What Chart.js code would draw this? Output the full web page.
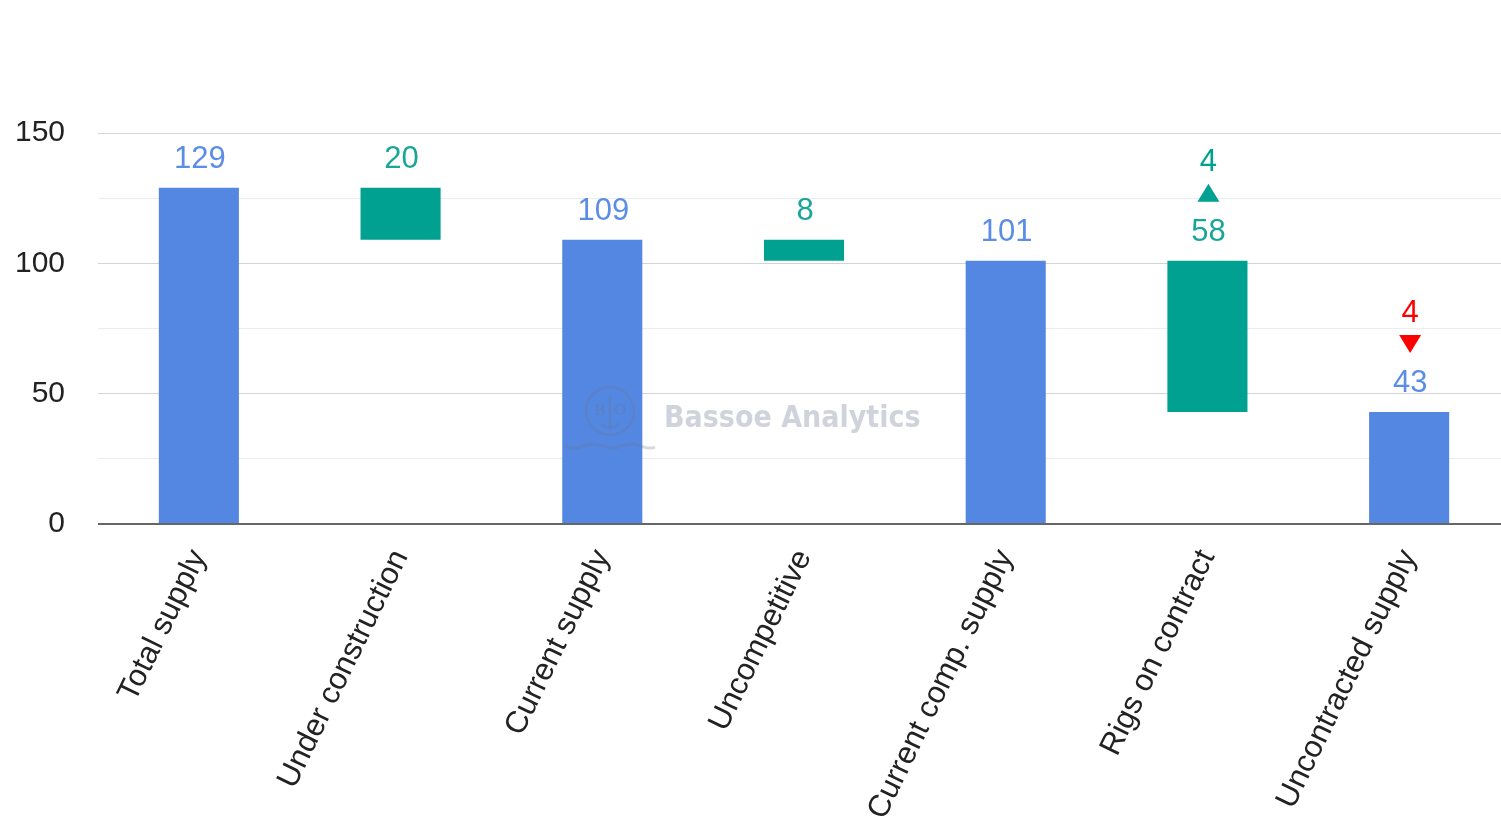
<!DOCTYPE html>
<html lang="en">
<head>
    <meta charset="UTF-8" />
    <title>Rig supply waterfall</title>
    <script src="https://cdn.jsdelivr.net/npm/chart.js"></script>
    <style>
        html, body {
          margin: 0;
          padding: 0;
          background: #fff;
          overflow: hidden;
        }

        .chart-container {
          position: relative;
          width: 1510px;
          height: 826px;
        }
    </style>
</head>
<body>

<div class="chart-container">
    <canvas id="waterfall"></canvas>
</div>

<script>
    // data
    const categories = ['Total supply', 'Under construction', 'Current supply', 'Uncompetitive',
                        'Current comp. supply', 'Rigs on contract', 'Uncontracted supply'];
    const barFrom = [0, 109, 0, 101, 0, 43, 0];
    const barTo = [129, 129, 109, 109, 101, 101, 43];
    const barKind = ['total', 'step', 'total', 'step', 'total', 'step', 'total'];
    const changeValues = [null, null, null, null, null, 4, -4];

    const blue = '#5387e1';
    const teal = '#00a191';
    const red = '#ff0000';

    const labelPlugin = {
      id: 'valueLabels',
      afterDatasetsDraw(chart) {
        const ctx = chart.ctx;
        const meta = chart.getDatasetMeta(0);
        const y = chart.scales.y;
        ctx.save();
        ctx.textAlign = 'center';
        ctx.textBaseline = 'middle';
        ctx.font = '31px Arial, "Liberation Sans"';
        meta.data.forEach((bar, i) => {
          const top = y.getPixelForValue(barTo[i]);
          ctx.fillStyle = barKind[i] === 'total' ? '#5b8de6' : '#1aa696';
          ctx.fillText(String(barTo[i] - barFrom[i]), bar.x + 1, top - 28);

          const ch = changeValues[i];
          if (ch) {
            const col = ch > 0 ? teal : red;
            ctx.fillStyle = col;
            ctx.fillText(String(Math.abs(ch)), bar.x + 1, top - 98);
            const c = top - 68;
            const cx = bar.x + 1;
            ctx.beginPath();
            if (ch > 0) {
              ctx.moveTo(cx - 11, c + 9);
              ctx.lineTo(cx + 11, c + 9);
              ctx.lineTo(cx, c - 9);
            } else {
              ctx.moveTo(cx - 11, c - 9);
              ctx.lineTo(cx + 11, c - 9);
              ctx.lineTo(cx, c + 9);
            }
            ctx.closePath();
            ctx.fill();
          }
        });
        ctx.restore();
      }
    };

    // faint watermark drawn over the bars
    const watermarkPlugin = {
      id: 'watermark',
      afterDatasetsDraw(chart) {
        const ctx = chart.ctx;
        ctx.save();
        const cx = 610, cy = 411;
        ctx.strokeStyle = 'rgba(110,120,140,0.28)';
        ctx.fillStyle = 'rgba(110,120,140,0.28)';
        ctx.lineWidth = 2.5;
        ctx.beginPath();
        ctx.arc(cx, cy, 24, 0, Math.PI * 2);
        ctx.stroke();
        ctx.font = 'bold 17px "Liberation Serif"';
        ctx.textAlign = 'center';
        ctx.textBaseline = 'middle';
        ctx.fillText('B', cx - 10, cy);
        ctx.fillText('O', cx + 10, cy);
        ctx.beginPath();
        ctx.moveTo(cx, cy - 16);
        ctx.lineTo(cx, cy + 16);
        ctx.stroke();
        ctx.beginPath();
        ctx.arc(cx, cy + 6, 11, 0.2 * Math.PI, 0.8 * Math.PI);
        ctx.stroke();
        // waves
        ctx.lineWidth = 3;
        ctx.beginPath();
        for (let k = 0; k <= 90; k++) {
          const px = cx - 45 + k;
          const py = cy + 35 + Math.sin(k / 6) * 2;
          if (k === 0) ctx.moveTo(px, py); else ctx.lineTo(px, py);
        }
        ctx.stroke();

        ctx.fillStyle = 'rgba(150,158,175,0.45)';
        ctx.font = 'bold 30px "DejaVu Sans Condensed", "DejaVu Sans"';
        ctx.textAlign = 'left';
        ctx.fillText('Bassoe Analytics', 664, 419);
        ctx.restore();
      }
    };

    const ctx = document.getElementById('waterfall').getContext('2d');

    new Chart(ctx, {
      type: 'bar',
      data: {
        labels: categories,
        datasets: [{
          data: barFrom.map((v, i) => [v, barTo[i]]),
          backgroundColor: barKind.map(k => k === 'total' ? blue : teal),
          borderWidth: 0,
          barPercentage: 0.397,
          categoryPercentage: 1
        }]
      },
      options: {
        responsive: true,
        maintainAspectRatio: false,
        animation: false,
        layout: {
          padding: { top: 133, right: 0, left: 0, bottom: 0 }
        },
        scales: {
          x: {
            grid: { display: false },
            border: { display: false },
            afterFit(scale) { scale.height = 302; },
            ticks: {
              autoSkip: false,
              minRotation: 64,
              maxRotation: 64,
              padding: 12,
              color: '#222',
              font: { family: 'Arial, "Liberation Sans"', size: 31 }
            }
          },
          y: {
            min: 0,
            max: 150,
            border: { display: false },
            afterFit(scale) { scale.width = 98; },
            grid: {
              drawTicks: false,
              color: c => c.tick.value === 0 ? '#666' : (c.tick.value % 50 === 0 ? '#d4d4d4' : '#ececec'),
              lineWidth: c => c.tick.value === 0 ? 2 : 1
            },
            ticks: {
              stepSize: 25,
              padding: 33,
              color: '#222',
              font: { family: 'Arial, "Liberation Sans"', size: 30 },
              callback: v => v % 50 === 0 ? v : ''
            }
          }
        },
        plugins: {
          legend: { display: false },
          tooltip: { enabled: false }
        }
      },
      plugins: [labelPlugin, watermarkPlugin]
    });
</script>

</body>
</html>
